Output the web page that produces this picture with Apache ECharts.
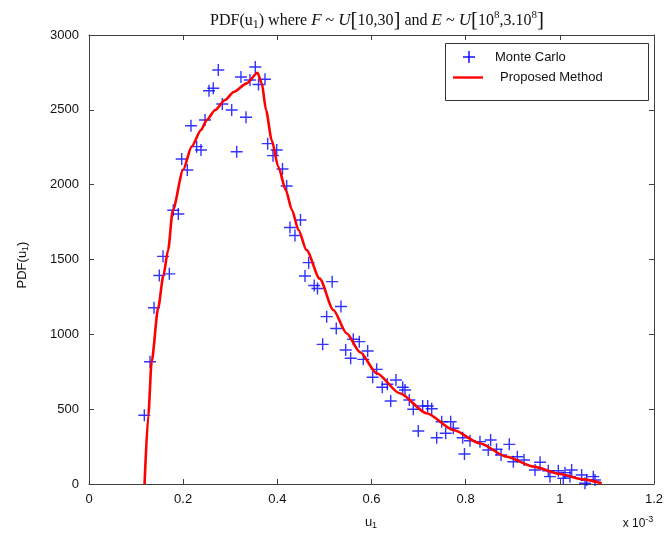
<!DOCTYPE html>
<html><head><meta charset="utf-8">
<script src="https://cdn.jsdelivr.net/npm/echarts@6/dist/echarts.min.js"></script>
<style>html,body{margin:0;padding:0;background:#fff}#c{width:666px;height:540px}</style>
</head><body><div id="c"></div>
<script>
// Values in units of 1e-3 for u1
const xTicks = [0, 0.2, 0.4, 0.6, 0.8, 1, 1.2];
const yTicks = [0, 500, 1000, 1500, 2000, 2500, 3000];

const mcU = [0.1175,0.1296,0.1381,0.1493,0.1706,0.1572,0.1790,0.1897,0.1969,0.2088,0.2166,0.2287,0.2379,0.2464,0.2549,0.2640,0.2746,0.2831,0.3031,0.3137,0.3228,0.3335,0.3419,0.3532,0.3600,0.3738,0.3795,0.3987,0.3908,0.4110,0.4199,0.4269,0.4492,0.4375,0.4666,0.4588,0.4783,0.4853,0.5165,0.5352,0.5048,0.5252,0.4963,0.5613,0.5742,0.5452,0.5919,0.5558,0.5826,0.6110,0.6025,0.6520,0.6336,0.6229,0.6663,0.6712,0.6803,0.6408,0.6888,0.7087,0.7194,0.7279,0.6994,0.7491,0.7682,0.7738,0.7576,0.7385,0.7937,0.8093,0.8304,0.8531,0.8480,0.8656,0.8927,0.7975,0.8752,0.9098,0.9240,0.9013,0.9581,0.9473,0.9755,0.9968,1.0110,0.9791,1.0252,1.0074,1.0216,1.0464,1.0571,1.0711,1.0747,1.0535];
const mcPdf = [459,817,1178,1393,1404,1521,1829,1804,2171,2098,2394,2254,2232,2432,2628,2644,2766,2539,2499,2220,2719,2450,2699,2786,2669,2704,2274,2232,2194,2105,1991,1714,1764,1660,1479,1390,1326,1306,1352,1186,1118,1039,933,967,951,895,889,840,833,766,713,695,666,646,646,628,561,555,499,521,521,503,354,416,416,372,339,309,309,289,283,294,227,232,265,200,194,182,160,149,145,94,89,89,76,49,94,38,49,60,27,49,27,5];

const pmU = [0.118,0.126,0.133,0.147,0.158,0.168,0.178,0.200,0.218,0.238,0.250,0.268,0.289,0.308,0.335,0.358,0.367,0.376,0.388,0.402,0.418,0.431,0.445,0.462,0.490,0.519,0.547,0.576,0.611,0.660,0.717,0.774,0.830,0.887,0.944,1.000,1.050,1.089];
const pmPdf = [0,459,817,1178,1392,1563,1829,2100,2254,2365,2432,2499,2566,2621,2677,2748,2677,2499,2298,2120,1964,1831,1697,1563,1372,1163,1007,880,740,606,473,361,272,182,116,67,31,5];

const chart = echarts.init(document.getElementById('c'), null, {renderer:'canvas'});
const axisCol = '#404040';
const lblStyle = {color:'#111', fontFamily:'Liberation Sans, Arial', fontSize:13};
const plus = 'path://M0,5L10,5M5,0L5,10';

chart.setOption({
  animation:false,
  backgroundColor:'#fff',
  title:{
    text:'PDF(u{s|1}) where {i|F} ~ {i|U}{b|[}10,30{b|]} and {i|E} ~ {i|U}{b|[}10{p|8},3.10{p|8}{b|]}',
    left:372, top:5, textAlign:'center',
    textStyle:{fontFamily:'Liberation Serif, Times New Roman', fontSize:16, fontWeight:'normal', color:'#111',
      rich:{
        s:{fontFamily:'Liberation Serif', fontSize:12, verticalAlign:'bottom', padding:[6,0,0,0], color:'#111'},
        i:{fontFamily:'Liberation Serif', fontSize:17, fontStyle:'italic', color:'#111'},
        b:{fontFamily:'Liberation Serif', fontSize:21, color:'#111'},
        p:{fontFamily:'Liberation Serif', fontSize:11, verticalAlign:'top', padding:[0,0,8,0], color:'#111'}
      }}
  },
  grid:{left:89, right:12, top:35, bottom:56, containLabel:false},
  xAxis:[{
    type:'value', min:0, max:1.2, interval:0.2,
    axisLine:{show:true, onZero:false, lineStyle:{color:axisCol, width:1}},
    axisTick:{show:true, inside:true, length:5, lineStyle:{color:axisCol}},
    axisLabel:Object.assign({margin:9, formatter:v=>String(+v.toFixed(1))}, lblStyle),
    splitLine:{show:false}
  },{
    type:'value', position:'top', min:0, max:1.2, interval:0.2,
    axisLine:{show:true, onZero:false, lineStyle:{color:axisCol, width:1}},
    axisTick:{show:true, inside:true, length:5, lineStyle:{color:axisCol}},
    axisLabel:{show:false}, splitLine:{show:false}
  }],
  yAxis:[{
    type:'value', min:0, max:3000, interval:500,
    axisLine:{show:true, onZero:false, lineStyle:{color:axisCol, width:1}},
    axisTick:{show:true, inside:true, length:5, lineStyle:{color:axisCol}},
    axisLabel:Object.assign({margin:10, formatter:v=>String(v)}, lblStyle),
    splitLine:{show:false}
  },{
    type:'value', position:'right', min:0, max:3000, interval:500,
    axisLine:{show:true, onZero:false, lineStyle:{color:axisCol, width:1}},
    axisTick:{show:true, inside:true, length:5, lineStyle:{color:axisCol}},
    axisLabel:{show:false}, splitLine:{show:false}
  }],
  series:[{
    name:'Monte Carlo', type:'scatter',
    data: mcU.map((u,i)=>[u, mcPdf[i]]),
    symbol: plus, symbolSize:12,
    itemStyle:{color:'none', borderColor:'#0000ff', borderWidth:1.4}
  },{
    name:'Proposed Method', type:'line',
    data: pmU.map((u,i)=>[u, pmPdf[i]]),
    showSymbol:false, smooth:0.25, smoothMonotone:'x',
    lineStyle:{color:'#ff0000', width:2.6}
  }],
  graphic:[
    {type:'rect', shape:{x:445.5, y:43.5, width:203, height:57}, style:{fill:'#fff', stroke:'#333', lineWidth:1}, z:100},
    {type:'line', shape:{x1:463, y1:57, x2:475, y2:57}, style:{stroke:'#0000ff', lineWidth:1.4}, z:101},
    {type:'line', shape:{x1:469, y1:51, x2:469, y2:63}, style:{stroke:'#0000ff', lineWidth:1.4}, z:101},
    {type:'text', x:495, y:57, style:{text:'Monte Carlo', font:'13px "Liberation Sans", Arial', fill:'#111', textVerticalAlign:'middle'}, z:101},
    {type:'line', shape:{x1:453, y1:77.5, x2:483, y2:77.5}, style:{stroke:'#ff0000', lineWidth:2.4}, z:101},
    {type:'text', x:500, y:77, style:{text:'Proposed Method', font:'13px "Liberation Sans", Arial', fill:'#111', textVerticalAlign:'middle'}, z:101},
    {type:'text', x:371, y:522, style:{text:'u{s|1}', font:'13px "Liberation Sans", Arial', fill:'#111', textAlign:'center', textVerticalAlign:'middle',
      rich:{s:{fontSize:9, fontFamily:'Liberation Sans', padding:[7,0,0,0], fill:'#111'}}}},
    {type:'text', x:638, y:524, style:{text:'x 10{p|-3}', font:'12px "Liberation Sans", Arial', fill:'#111', textAlign:'center', textVerticalAlign:'middle',
      rich:{p:{fontSize:9, fontFamily:'Liberation Sans', padding:[0,0,8,0], fill:'#111'}}}},
    {type:'text', x:22, y:265, rotation:Math.PI/2, style:{text:'PDF(u{s|1})', font:'13px "Liberation Sans", Arial', fill:'#111', textAlign:'center', textVerticalAlign:'middle',
      rich:{s:{fontSize:9, fontFamily:'Liberation Sans', padding:[7,0,0,0], fill:'#111'}}}}
  ]
});
</script></body></html>
